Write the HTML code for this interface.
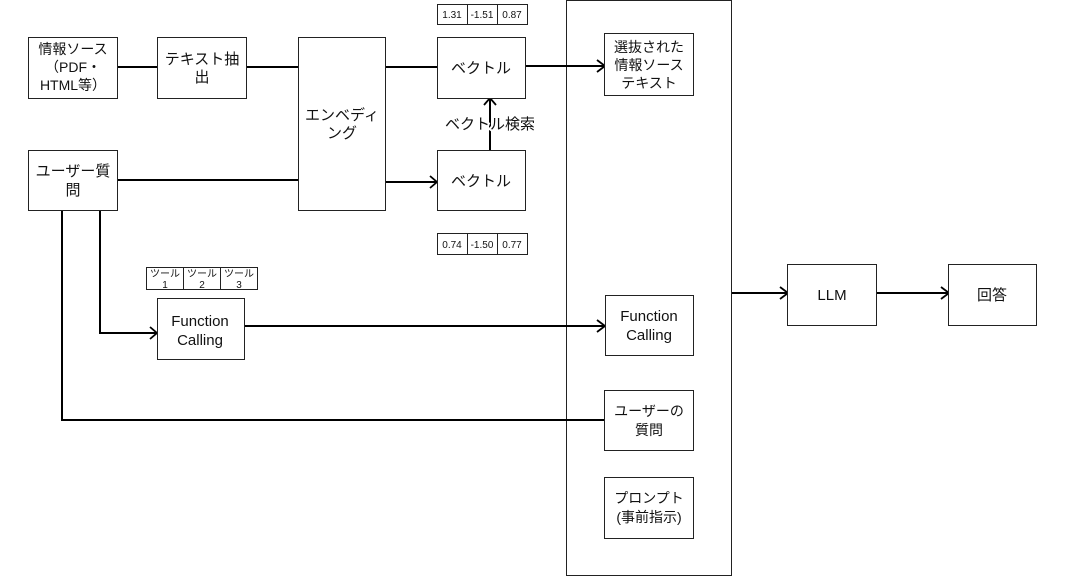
<!DOCTYPE html>
<html><head><meta charset="utf-8"><style>
body{margin:0;background:#fff}
text{font-family:"Liberation Sans","Noto Sans CJK JP",sans-serif;fill:#111;text-anchor:middle}
rect{fill:#fff;stroke:#222;stroke-width:1}
.l{stroke:#000;stroke-width:2;fill:none}
.a{stroke:#000;stroke-width:1.8;fill:none}
</style></head><body>
<svg width="1065" height="576" viewBox="0 0 1065 576" xmlns="http://www.w3.org/2000/svg">
<rect x="566.5" y="0.5" width="165" height="575" style="fill:none"/>
<!-- lines -->
<path class="l" d="M117 67H157M246 67H298M385 67H437M525 66H604"/>
<path class="a" d="M597 60L605 66L597 72"/>
<path class="l" d="M117 180H298M385 182H437"/>
<path class="a" d="M430 176L437 182L430 188"/>
<path class="l" d="M490 150V98"/>
<path class="a" d="M484 105L490 98L496 105"/>
<path class="l" d="M100 210V333H157"/>
<path class="a" d="M150 327L157 333L150 339"/>
<path class="l" d="M244 326H604"/>
<path class="a" d="M597 320L605 326L597 332"/>
<path class="l" d="M62 210V420H604"/>
<path class="l" d="M732 293H787M876 293H948"/>
<path class="a" d="M780 287L788 293L780 299M941 287L949 293L941 299"/>
<!-- boxes -->
<rect x="28.5" y="37.5" width="89" height="61"/>
<text font-size="14"><tspan x="73" y="54">情報ソース</tspan><tspan x="73" y="72">（PDF・</tspan><tspan x="73" y="90">HTML等）</tspan></text>
<rect x="157.5" y="37.5" width="89" height="61"/>
<text font-size="15"><tspan x="202" y="64">テキスト抽</tspan><tspan x="202" y="82">出</tspan></text>
<rect x="298.5" y="37.5" width="87" height="173"/>
<text font-size="15"><tspan x="342" y="120">エンベディ</tspan><tspan x="342" y="138">ング</tspan></text>
<rect x="437.5" y="37.5" width="88" height="61"/>
<text font-size="15" x="481" y="73">ベクトル</text>
<rect x="437.5" y="150.5" width="88" height="60"/>
<text font-size="15" x="481" y="186">ベクトル</text>
<text font-size="15" x="490" y="129" style="paint-order:stroke;stroke:#fff;stroke-width:4">ベクトル検索</text>
<g font-size="10">
<rect x="437.5" y="4.5" width="30" height="20"/><rect x="467.5" y="4.5" width="30" height="20"/><rect x="497.5" y="4.5" width="30" height="20"/>
<text x="452" y="18" font-size="10">1.31</text><text x="482" y="18" font-size="10">-1.51</text><text x="512" y="18" font-size="10">0.87</text>
<rect x="437.5" y="233.5" width="30" height="21"/><rect x="467.5" y="233.5" width="30" height="21"/><rect x="497.5" y="233.5" width="30" height="21"/>
<text x="452" y="248" font-size="10">0.74</text><text x="482" y="248" font-size="10">-1.50</text><text x="512" y="248" font-size="10">0.77</text>
<rect x="146.5" y="267.5" width="37" height="22"/><rect x="183.5" y="267.5" width="37" height="22"/><rect x="220.5" y="267.5" width="37" height="22"/>
<text font-size="10"><tspan x="165" y="277">ツール</tspan><tspan x="165" y="288">1</tspan></text>
<text font-size="10"><tspan x="202" y="277">ツール</tspan><tspan x="202" y="288">2</tspan></text>
<text font-size="10"><tspan x="239" y="277">ツール</tspan><tspan x="239" y="288">3</tspan></text>
</g>
<rect x="28.5" y="150.5" width="89" height="60"/>
<text font-size="15"><tspan x="73" y="176">ユーザー質</tspan><tspan x="73" y="195">問</tspan></text>
<rect x="157.5" y="298.5" width="87" height="61"/>
<text font-size="15"><tspan x="200" y="326">Function</tspan><tspan x="200" y="345">Calling</tspan></text>
<rect x="604.5" y="33.5" width="89" height="62"/>
<text font-size="14"><tspan x="649" y="52">選抜された</tspan><tspan x="649" y="70">情報ソース</tspan><tspan x="649" y="88">テキスト</tspan></text>
<rect x="605.5" y="295.5" width="88" height="60"/>
<text font-size="15"><tspan x="649" y="321">Function</tspan><tspan x="649" y="340">Calling</tspan></text>
<rect x="604.5" y="390.5" width="89" height="60"/>
<text font-size="14"><tspan x="649" y="416">ユーザーの</tspan><tspan x="649" y="435">質問</tspan></text>
<rect x="604.5" y="477.5" width="89" height="61"/>
<text font-size="14"><tspan x="649" y="503">プロンプト</tspan><tspan x="649" y="522">(事前指示)</tspan></text>
<rect x="787.5" y="264.5" width="89" height="61"/>
<text font-size="15" x="832" y="300">LLM</text>
<rect x="948.5" y="264.5" width="88" height="61"/>
<text font-size="15" x="992" y="300">回答</text>
</svg>
</body></html>
